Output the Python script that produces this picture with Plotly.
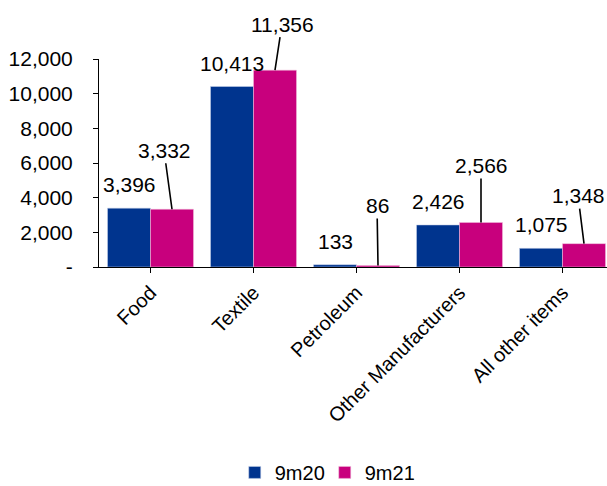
import plotly.graph_objects as go

# Exports by commodity group, 9 months 2020 vs 9 months 2021
categories = ["Food", "Textile", "Petroleum", "Other Manufacturers", "All other items"]
values_9m20 = [3396, 10413, 133, 2426, 1075]
values_9m21 = [3332, 11356, 86, 2566, 1348]

y_tickvals = [0, 2000, 4000, 6000, 8000, 10000, 12000]
y_ticktext = ["-", "2,000", "4,000", "6,000", "8,000", "10,000", "12,000"]

# pixel offsets of the 9m21 labels from their bar tops (leader lines)
label_dx_9m21 = [-8, 7, -1, 0, -6]
label_dy_9m21 = [-59, -46, -60, -57, -48]

BLUE = "rgb(0,52,142)"
MAGENTA = "rgb(200,0,125)"
FONT = "Liberation Sans, Arial, sans-serif"
BARGAP = 0.165

idx = list(range(len(categories)))

fig = go.Figure()
fig.add_trace(go.Bar(x=idx, y=values_9m20, name="9m20",
                     marker=dict(color=BLUE, line=dict(width=0.6, color="rgba(200,210,235,0.9)"))))
fig.add_trace(go.Bar(x=idx, y=values_9m21, name="9m21",
                     marker=dict(color=MAGENTA, line=dict(width=0.6, color="rgba(240,190,220,0.9)"))))

off = (1 - BARGAP) / 4
annotations = []
for i, (a, b) in enumerate(zip(values_9m20, values_9m21)):
    annotations.append(dict(
        x=i - off, y=a, xref="x", yref="y", text=f"{a:,}", showarrow=False,
        yanchor="bottom", yshift=10, font=dict(size=21, color="black", family=FONT)))
    annotations.append(dict(
        x=i + off, y=b, xref="x", yref="y", text=f"{b:,}", showarrow=True,
        arrowhead=0, arrowwidth=1.6, arrowcolor="black", standoff=0,
        ax=label_dx_9m21[i], ay=label_dy_9m21[i],
        font=dict(size=21, color="black", family=FONT)))

fig.update_layout(
    width=607, height=486,
    margin=dict(l=99, r=0, t=59, b=219),
    paper_bgcolor="white", plot_bgcolor="white",
    barmode="group", bargap=BARGAP, bargroupgap=0,
    font=dict(family=FONT, size=20, color="black"),
    annotations=annotations,
    showlegend=True,
    legend=dict(orientation="h", xref="container", yref="container",
                x=0.535, xanchor="center", y=0.028, yanchor="middle",
                font=dict(size=20, color="black"), entrywidth=45,
                bgcolor="rgba(0,0,0,0)"),
)
fig.update_xaxes(
    range=[-0.5, 4.432], tickmode="array", tickvals=idx, ticktext=categories,
    tickangle=-45, ticks="outside", tickson="boundaries", ticklen=5,
    tickcolor="black", showline=True, linecolor="black", linewidth=1,
    showgrid=False, zeroline=False, automargin=False,
    tickfont=dict(size=20, color="black", family=FONT))
fig.update_yaxes(
    range=[0, 12000], tickmode="array", tickvals=y_tickvals, ticktext=y_ticktext,
    ticks="outside", ticklen=5, tickcolor="black", showline=True,
    linecolor="black", linewidth=1, showgrid=False, zeroline=False,
    automargin=False, ticklabelstandoff=16,
    tickfont=dict(size=21, color="black", family=FONT))

fig.write_html("out.html")
